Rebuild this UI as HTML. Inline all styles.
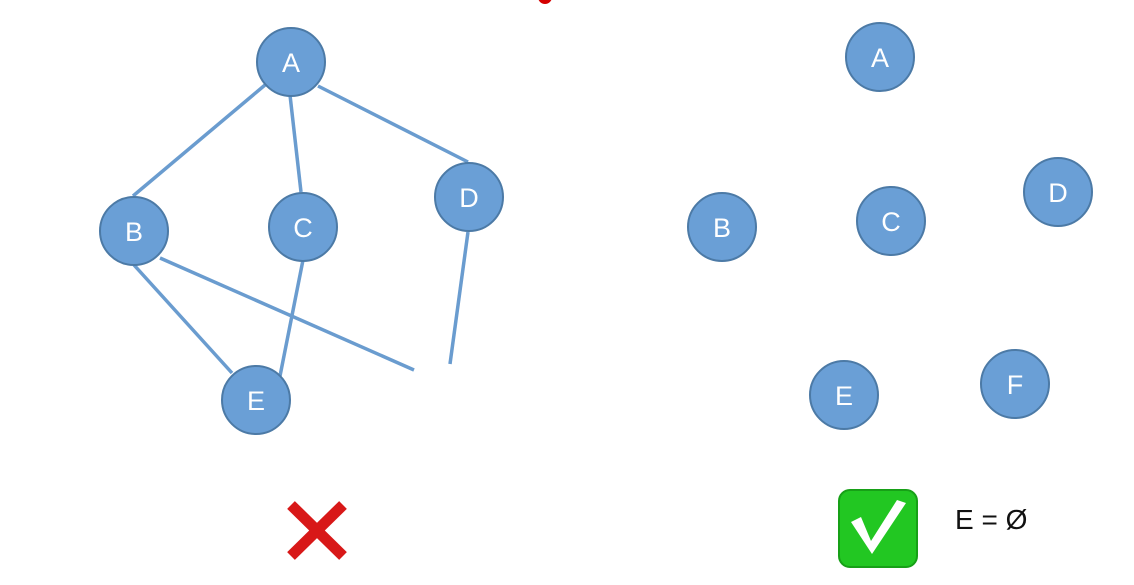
<!DOCTYPE html>
<html><head><meta charset="utf-8"><style>
body{margin:0;background:#fff;width:1134px;height:585px;overflow:hidden}
svg{display:block}
text{font-family:"Liberation Sans",sans-serif}
</style></head><body>
<svg width="1134" height="585" viewBox="0 0 1134 585">
<circle cx="545" cy="-3" r="7" fill="#d40000"/>
<g stroke="#6a9ccf" stroke-width="3.5" fill="none">
<line x1="265" y1="85" x2="133" y2="196"/>
<line x1="290" y1="95" x2="301" y2="192"/>
<line x1="318" y1="86" x2="468" y2="162"/>
<line x1="134" y1="265" x2="232" y2="373"/>
<line x1="303" y1="260" x2="280" y2="376"/>
<line x1="160" y1="258" x2="414" y2="370"/>
<line x1="468" y1="232" x2="450" y2="364"/>
</g>
<g id="nodes"></g>
<g stroke="#d81818" stroke-width="11" stroke-linecap="butt">
<line x1="291" y1="505" x2="343" y2="556"/><line x1="343" y1="505" x2="291" y2="556"/>
</g>
<g>
<rect x="839" y="490" width="78" height="77" rx="11" fill="#22c722" stroke="#17a017" stroke-width="2"/>
<path d="M851 522 L872 554 L906 503 L897 500 L871 541 L861 517 Z" fill="#fff"/>
</g>
<text x="955" y="529" font-size="28" fill="#111">E = Ø</text>
</svg>
<script>
const nodeLabels=["A","B","C","D","E","A","B","C","D","E","F"];
const nodeX=[291,134,303,469,256,880,722,891,1058,844,1015];
const nodeY=[62,231,227,197,400,57,227,221,192,395,384];
const g=document.getElementById('nodes');
const ns="http://www.w3.org/2000/svg";
nodeLabels.forEach((l,i)=>{
 const c=document.createElementNS(ns,'circle');
 c.setAttribute('cx',nodeX[i]);c.setAttribute('cy',nodeY[i]);c.setAttribute('r',34);
 c.setAttribute('fill','#6a9fd6');c.setAttribute('stroke','#4c7aa6');c.setAttribute('stroke-width','2');
 
 
 g.appendChild(c);
 const t=document.createElementNS(ns,'text');
 t.setAttribute('x',nodeX[i]);t.setAttribute('y',nodeY[i]+10);t.setAttribute('text-anchor','middle');
 t.setAttribute('font-size','27');t.setAttribute('fill','#fff');t.textContent=l;
 
 
 g.appendChild(t);
});
</script>
</body></html>
